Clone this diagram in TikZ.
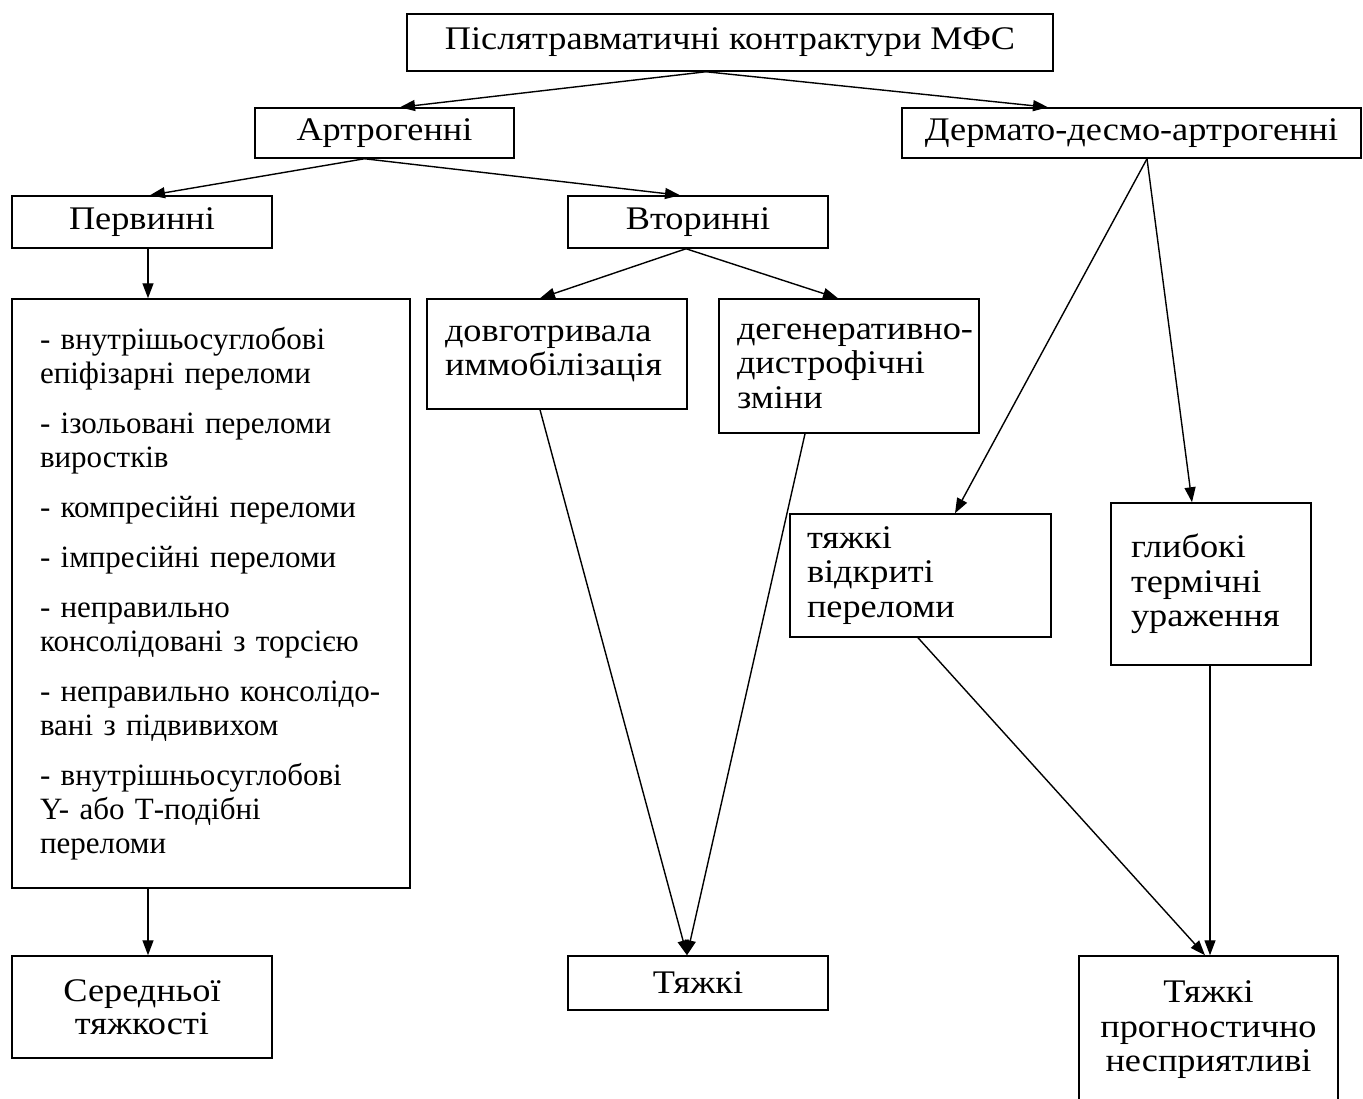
\documentclass[tikz,border=0pt]{standalone}
\usepackage{fontspec}
\setmainfont{Liberation Serif}
\newfontfamily\widefont[FakeStretch=1.1]{Liberation Serif}
\usetikzlibrary{arrows.meta}
\tikzset{
  box/.style={draw, line width=1.5pt, inner sep=0pt, font=\widefont\fontsize{33}{34.5}\selectfont},
  cbox/.style={box, align=center},
  lbox/.style={box, align=left},
  arr/.style={line width=1.4pt, -{Triangle[length=15pt,width=11pt]}}
}
\begin{document}
\begin{tikzpicture}[x=1pt,y=-1pt]
\useasboundingbox (0,0) rectangle (1363,1098);
\clip (0,0) rectangle (1363,1098);
\node[cbox, minimum width=646pt, minimum height=57pt] (top) at (730,42.5) {Післятравматичні контрактури МФС};
\node[cbox, minimum width=259pt, minimum height=50pt] (art) at (384.5,133) {Артрогенні};
\node[cbox, minimum width=459pt, minimum height=50pt] (derm) at (1131.5,133) {Дермато-десмо-артрогенні};
\node[cbox, minimum width=260pt, minimum height=52pt] (perv) at (142,222) {Первинні};
\node[cbox, minimum width=260pt, minimum height=52pt] (vtor) at (698,222) {Вторинні};
\node[lbox, text width=342pt, inner xsep=28pt, minimum height=589pt, font=\fontsize{31}{34}\selectfont] (list) at (211,593.5) {%
- внутрішьосуглобові\\ епіфізарні переломи\\[16pt]
- ізольовані переломи\\ виростків\\[16pt]
- компресійні переломи\\[16pt]
- імпресійні переломи\\[16pt]
- неправильно\\ консолідовані з торсією\\[16pt]
- неправильно консолідо-\\ вані з підвивихом\\[16pt]
- внутрішньосуглобові\\ Y- або Т-подібні\\ переломи};
\node[lbox, text width=224pt, inner xsep=18pt, minimum height=110pt] (dovh) at (557,354) {довготривала\\ иммобілізація};
\node[lbox, text width=224pt, inner xsep=18pt, minimum height=134pt] (deg) at (849,366) {\mbox{дегенеративно-}\\ дистрофічні\\ зміни};
\node[lbox, text width=227pt, inner xsep=17pt, minimum height=123pt] (tvp) at (920.5,575.5) {тяжкі\\ відкриті\\ переломи};
\node[lbox, text width=160pt, inner xsep=20pt, minimum height=162pt] (hlyb) at (1211,584) {глибокі\\ термічні\\ ураження};
\node[cbox, minimum width=260pt, minimum height=102pt, font=\widefont\fontsize{33}{33}\selectfont] (ser) at (142,1007) {Середньої\\ тяжкості};
\node[cbox, minimum width=260pt, minimum height=54pt] (tyazh) at (698,983) {Тяжкі};
\node[cbox, minimum width=259pt, minimum height=148pt] (tpn) at (1208.5,1030) {Тяжкі\\ прогностично\\ несприятливі};

\draw[arr] ([xshift=-24pt]top.south) -- ([xshift=15.5pt]art.north);
\draw[arr] ([xshift=-24pt]top.south) -- ([xshift=-83.5pt]derm.north);
\draw[arr] ([xshift=-20pt]art.south) -- ([xshift=8pt]perv.north);
\draw[arr] ([xshift=-20pt]art.south) -- ([xshift=-18pt]vtor.north);
\draw[arr] ([xshift=6pt]perv.south) -- ([xshift=-63pt]list.north);
\draw[arr] ([xshift=-12pt]vtor.south) -- ([xshift=-17pt]dovh.north);
\draw[arr] ([xshift=-12pt]vtor.south) -- ([xshift=-11pt]deg.north);
\draw[arr] ([xshift=15.5pt]derm.south) -- ([xshift=34.5pt]tvp.north);
\draw[arr] ([xshift=15.5pt]derm.south) -- ([xshift=-19pt]hlyb.north);
\draw[arr] ([xshift=-63pt]list.south) -- ([xshift=6pt]ser.north);
\draw[arr] ([xshift=-17pt]dovh.south) -- ([xshift=-11pt]tyazh.north);
\draw[arr] ([xshift=-44pt]deg.south) -- ([xshift=-11pt]tyazh.north);
\draw[arr] ([xshift=-2.5pt]tvp.south) -- ([xshift=-3.5pt]tpn.north);
\draw[arr] ([xshift=-1pt]hlyb.south) -- ([xshift=1.5pt]tpn.north);
\end{tikzpicture}
\end{document}
